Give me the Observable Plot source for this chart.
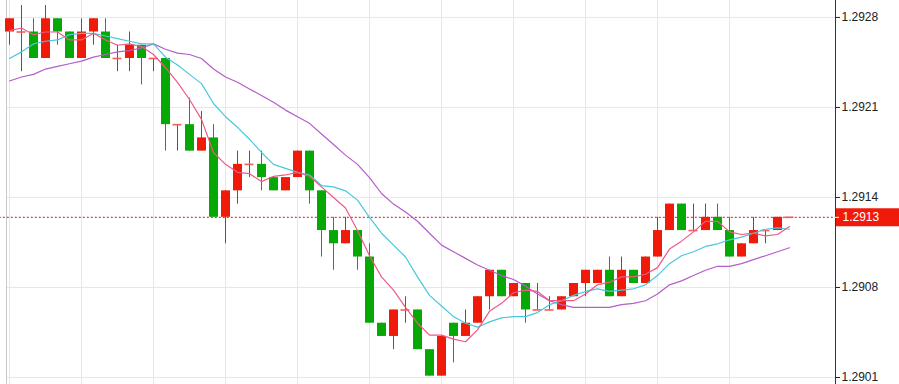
<!DOCTYPE html>
<html><head><meta charset="utf-8">
<script src="https://cdn.jsdelivr.net/npm/d3@7"></script>
<script src="https://cdn.jsdelivr.net/npm/@observablehq/plot@0.6"></script>
<style>html,body{margin:0;padding:0;background:#fff;} svg{display:block}</style>
</head><body><div id="chart"></div>
<script>
const opens = [1.29269,1.29269,1.29269,1.29249,1.29279,1.29269,1.29249,1.29269,1.29269,1.29249,1.29249,1.29259,1.29249,
  1.29249,1.29199,1.29199,1.29179,1.29189,1.29129,1.29149,1.29169,1.29169,1.29159,1.29149,1.29159,1.29179,1.29149,
  1.29119,1.29109,1.29119,1.29099,1.29049,1.29039,1.29059,1.29059,1.29029,1.29009,1.29049,1.29039,1.29049,
  1.29069,1.29089,1.29069,1.29079,1.29059,1.29059,1.29059,1.29069,1.29079,1.29079,1.29089,1.29069,1.29089,
  1.29079,1.29099,1.29119,1.29139,1.29119,1.29119,1.29129,1.29119,1.29099,1.29109,1.29119,1.29119,1.29129];
const highs = [1.29279,1.29289,1.29279,1.29289,1.29279,1.29269,1.29279,1.29279,1.29279,1.29259,1.29269,1.29259,1.29249,
  1.29249,1.29199,1.29219,1.29209,1.29199,1.29149,1.29179,1.29179,1.29179,1.29159,1.29159,1.29179,1.29179,1.29149,
  1.29129,1.29129,1.29119,1.29109,1.29049,1.29059,1.29069,1.29059,1.29029,1.29039,1.29049,1.29059,1.29069,
  1.29089,1.29089,1.29079,1.29079,1.29079,1.29069,1.29069,1.29079,1.29089,1.29089,1.29099,1.29099,1.29089,
  1.29099,1.29129,1.29139,1.29139,1.29139,1.29139,1.29139,1.29129,1.29109,1.29129,1.29119,1.29129,1.29129];
const lows = [1.29259,1.29239,1.29249,1.29249,1.29259,1.29249,1.29249,1.29259,1.29249,1.29239,1.29239,1.29229,1.29239,
  1.29179,1.29179,1.29179,1.29179,1.29129,1.29109,1.29139,1.29159,1.29149,1.29149,1.29149,1.29159,1.29139,1.29099,
  1.29089,1.29109,1.29089,1.29049,1.29039,1.29029,1.29049,1.29029,1.29009,1.29009,1.29019,1.29039,1.29049,
  1.29059,1.29069,1.29069,1.29049,1.29059,1.29059,1.29059,1.29069,1.29069,1.29079,1.29069,1.29069,1.29079,
  1.29079,1.29099,1.29119,1.29119,1.29119,1.29119,1.29119,1.29099,1.29099,1.29109,1.29109,1.29119,1.29129];
const closes = [1.29279,1.29269,1.29249,1.29279,1.29269,1.29249,1.29269,1.29279,1.29249,1.29249,1.29259,1.29249,1.29249,
  1.29199,1.29199,1.29179,1.29189,1.29129,1.29149,1.29169,1.29169,1.29159,1.29149,1.29159,1.29179,1.29149,1.29119,
  1.29109,1.29119,1.29099,1.29049,1.29039,1.29059,1.29059,1.29029,1.29009,1.29039,1.29039,1.29049,1.29069,
  1.29089,1.29069,1.29079,1.29059,1.29059,1.29059,1.29069,1.29079,1.29089,1.29089,1.29069,1.29089,1.29079,
  1.29099,1.29119,1.29139,1.29119,1.29119,1.29129,1.29119,1.29099,1.29109,1.29119,1.29119,1.29129,1.29129];
const maFast = [1.29270,1.29272,1.29267,1.29269,1.29269,1.29263,1.29263,1.29268,1.29263,1.29259,1.29260,1.29258,1.29252,
  1.29242,1.29231,1.29218,1.29203,1.29178,1.29169,1.29163,1.29162,1.29156,1.29160,1.29161,1.29163,1.29160,1.29152,
  1.29144,1.29136,1.29119,1.29100,1.29084,1.29074,1.29061,1.29049,1.29040,1.29040,1.29037,1.29035,1.29044,
  1.29058,1.29064,1.29072,1.29074,1.29073,1.29066,1.29066,1.29066,1.29071,1.29078,1.29080,1.29084,1.29084,
  1.29086,1.29091,1.29105,1.29111,1.29118,1.29126,1.29126,1.29118,1.29116,1.29117,1.29115,1.29116,1.29122];
const maMid = [1.29249,1.29254,1.29260,1.29262,1.29263,1.29267,1.29268,1.29268,1.29266,1.29264,1.29262,1.29260,1.29260,
  1.29250,1.29244,1.29237,1.29230,1.29215,1.29205,1.29197,1.29188,1.29178,1.29169,1.29166,1.29163,1.29161,1.29153,
  1.29152,1.29149,1.29142,1.29129,1.29117,1.29108,1.29099,1.29084,1.29070,1.29062,1.29054,1.29049,1.29046,
  1.29050,1.29053,1.29054,1.29054,1.29057,1.29063,1.29066,1.29070,1.29073,1.29075,1.29073,1.29074,1.29075,
  1.29078,1.29085,1.29094,1.29100,1.29103,1.29107,1.29109,1.29112,1.29114,1.29117,1.29120,1.29121,1.29120];
const maSlow = [1.29232,1.29235,1.29237,1.29241,1.29243,1.29245,1.29247,1.29250,1.29252,1.29254,1.29255,1.29257,1.29260,
  1.29256,1.29253,1.29252,1.29249,1.29241,1.29235,1.29231,1.29226,1.29221,1.29216,1.29210,1.29205,1.29200,1.29192,
  1.29184,1.29176,1.29169,1.29159,1.29147,1.29139,1.29133,1.29126,1.29117,1.29108,1.29103,1.29098,1.29093,
  1.29089,1.29085,1.29082,1.29077,1.29071,1.29066,1.29063,1.29061,1.29061,1.29061,1.29061,1.29063,1.29064,
  1.29066,1.29071,1.29078,1.29081,1.29085,1.29089,1.29092,1.29092,1.29094,1.29097,1.29100,1.29103,1.29106];
const yTicks = [1.29008, 1.29076, 1.29144, 1.29212, 1.29280];
const yTickLabels = ["1.2901", "1.2908", "1.2914", "1.2921", "1.2928"];
const gridIndex = [0, 6, 12, 18, 24, 30, 36, 42, 48, 54, 60];
const lastPrice = 1.29129;
const lastPriceLabel = "1.2913";

const RED = "#f01a0a", GREEN = "#05a805", DOJI = "#f0605a";
const XMIN = -0.25, XMAX = 68.8333;
const labelOf = new Map(yTicks.map((t, i) => [t, yTickLabels[i]]));
const candles = opens.map((o, i) => ({i, open: o, high: highs[i], low: lows[i], close: closes[i]}));
const colorOf = d => d.close >= d.open ? RED : GREEN;
const bodies = candles.filter(d => d.open !== d.close);
const dojis = candles.filter(d => d.open === d.close);
const series = arr => arr.map((v, i) => ({i, v}));

const chart = Plot.plot({
  width: 899, height: 384,
  marginLeft: 6, marginRight: 64, marginTop: 0, marginBottom: 0,
  style: {fontFamily: "'Liberation Sans', Arial, sans-serif", fontSize: "12px", background: "#fff", color: "#222"},
  x: {domain: [XMIN, XMAX], axis: null},
  y: {domain: [1.290027, 1.292928], axis: "right", ticks: yTicks, tickFormat: d => labelOf.get(d), tickSize: 4, tickPadding: 2, label: null},
  color: {type: "identity"},
  marks: [
    Plot.ruleY(yTicks, {stroke: "#e3e8ee"}),
    Plot.ruleX(gridIndex, {stroke: "#e3e8ee"}),
    Plot.ruleX([XMIN], {stroke: "#c8c8c8"}),
    Plot.ruleY([lastPrice], {x1: () => XMIN - 0.6, x2: () => XMAX, stroke: "#f00", strokeDasharray: "2,2"}),
    Plot.ruleX(candles, {x: "i", y1: "low", y2: "high", stroke: colorOf}),
    Plot.ruleX(bodies, {x: "i", y1: "open", y2: "close", stroke: colorOf, strokeWidth: 9}),
    Plot.ruleY(dojis, {y: "close", x1: d => d.i - 0.375, x2: d => d.i + 0.375, stroke: DOJI, strokeWidth: 1.6}),
    Plot.line(series(maSlow), {x: "i", y: "v", stroke: "#b45ec8", strokeWidth: 1.2}),
    Plot.line(series(maMid), {x: "i", y: "v", stroke: "#48c8dc", strokeWidth: 1.2}),
    Plot.line(series(maFast), {x: "i", y: "v", stroke: "#ef5a85", strokeWidth: 1.2}),
    Plot.ruleX([XMAX], {stroke: "#333"}),
    Plot.ruleY([lastPrice], {x1: () => XMAX + 1/12, x2: () => XMAX + 64/12, stroke: RED, strokeWidth: 18}),
    Plot.ruleY([lastPrice], {x1: () => XMAX, x2: () => XMAX + 4/12, stroke: "#fff"}),
    Plot.text([lastPrice], {x: () => XMAX, y: d => d, text: () => lastPriceLabel, dx: 7, textAnchor: "start", fill: "#fff", fontSize: 12})
  ]
});
document.getElementById("chart").append(chart);
</script>
</body></html>
